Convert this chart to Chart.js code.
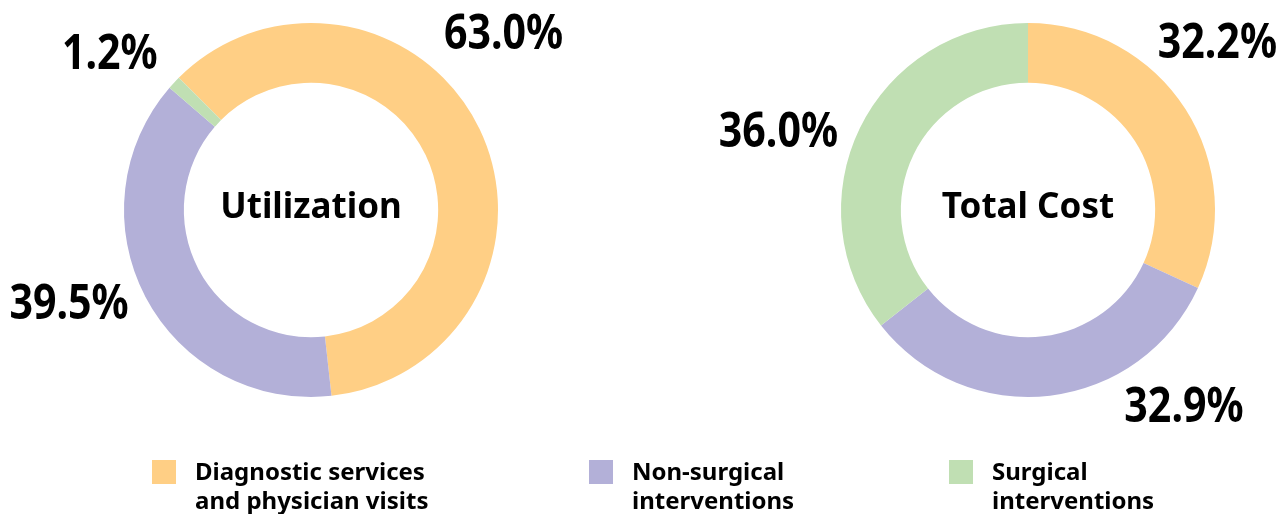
<!DOCTYPE html>
<html>
<head>
<meta charset="utf-8">
<script src="https://cdn.jsdelivr.net/npm/chart.js@4.4.1/dist/chart.umd.min.js"></script>
<style>
  html, body { margin: 0; padding: 0; background: #ffffff; overflow: hidden; }
  #wrap { position: relative; width: 1280px; height: 514px; }
  #wrap canvas { position: absolute; left: 0; top: 0; }
</style>
</head>
<body>
<div id="wrap">
  <canvas id="util" width="1280" height="514"></canvas>
  <canvas id="cost" width="1280" height="514"></canvas>
</div>
<script>
// ---- data ----
const categories = ['Diagnostic services and physician visits', 'Non-surgical interventions', 'Surgical interventions'];
const legendLines = [['Diagnostic services', 'and physician visits'], ['Non-surgical', 'interventions'], ['Surgical', 'interventions']];
const utilizationValues = [63.0, 39.5, 1.2];
const totalCostValues = [32.2, 32.9, 36.0];
const chartTitles = ['Utilization', 'Total Cost'];

// ---- styles ----
const sliceColors = ['#FFCF85', '#B3B0D8', '#C0DFB3'];
const LABEL_FONT = 'bold 49px "Noto Sans", "DejaVu Sans", sans-serif';
const TITLE_FONT = 'bold 35px "Noto Sans", "DejaVu Sans", sans-serif';
const LEGEND_FONT = 'bold 24px "Noto Sans", "DejaVu Sans", sans-serif';

const donutText = {
  id: 'donutText',
  afterDraw(chart, args, opts) {
    const ctx = chart.ctx;
    const meta = chart.getDatasetMeta(0);
    const cx = meta.data[0].x, cy = meta.data[0].y;
    ctx.save();
    ctx.fillStyle = '#000000';
    ctx.textAlign = 'center';
    ctx.textBaseline = 'alphabetic';
    ctx.font = TITLE_FONT;
    ctx.fillText(opts.title, cx, cy + 8);
    const values = chart.data.datasets[0].data;
    values.forEach((v, i) => {
      const p = opts.placement[i];
      const a = p.angle * Math.PI / 180;
      const x = cx + p.dist * Math.sin(a);
      const y = cy - p.dist * Math.cos(a);
      ctx.save();
      ctx.translate(x, y);
      ctx.scale(opts.squeeze, 1);
      ctx.font = LABEL_FONT;
      ctx.fillText(v.toFixed(1) + '%', 0, 17);
      ctx.restore();
    });
    ctx.restore();
  }
};

const bottomLegend = {
  id: 'bottomLegend',
  afterDraw(chart, args, opts) {
    if (!opts.show) return;
    const ctx = chart.ctx;
    ctx.save();
    ctx.textAlign = 'left';
    ctx.textBaseline = 'alphabetic';
    ctx.font = LEGEND_FONT;
    legendLines.forEach((lines, i) => {
      const x = opts.xs[i];
      ctx.fillStyle = sliceColors[i];
      ctx.fillRect(x, opts.boxTop, opts.box, opts.box);
      ctx.fillStyle = '#000000';
      lines.forEach((t, j) => {
        ctx.fillText(t, x + opts.textGap, opts.baseline + j * opts.lineHeight);
      });
    });
    ctx.restore();
  }
};

function makeDonut(id, values, title, rotation, padding, placement, showLegend) {
  return new Chart(document.getElementById(id), {
    type: 'doughnut',
    data: {
      labels: categories,
      datasets: [{
        data: values,
        backgroundColor: sliceColors,
        borderWidth: 0,
        radius: 187,
        hoverOffset: 0
      }]
    },
    options: {
      responsive: false,
      animation: false,
      cutout: '68%',
      rotation: rotation,
      layout: { padding: padding },
      events: [],
      plugins: {
        legend: { display: false },
        tooltip: { enabled: false },
        donutText: { title: title, placement: placement, squeeze: 0.84 },
        bottomLegend: { show: showLegend, xs: [152, 589, 949], boxTop: 460, box: 24, textGap: 43, baseline: 480, lineHeight: 29 }
      }
    },
    plugins: [donutText, bottomLegend]
  });
}

makeDonut('util', utilizationValues, chartTitles[0], -45,
  { left: 0, right: 658, top: 0, bottom: 94 },
  [{ angle: 47.3, dist: 262 }, { angle: 249.1, dist: 259 }, { angle: 308.2, dist: 256 }],
  true);

makeDonut('cost', totalCostValues, chartTitles[1], 0,
  { left: 776, right: 0, top: 0, bottom: 94 },
  [{ angle: 48.2, dist: 254 }, { angle: 141.4, dist: 250 }, { angle: 287.7, dist: 262 }],
  false);
</script>
</body>
</html>
